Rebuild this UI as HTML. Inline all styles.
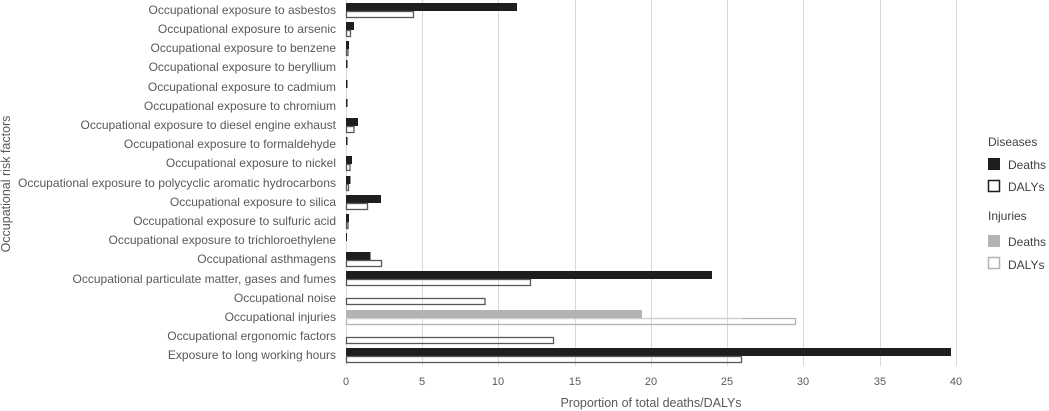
<!DOCTYPE html>
<html><head><meta charset="utf-8"><style>
html,body{margin:0;padding:0;background:#fff;}
svg{display:block;font-family:"Liberation Sans",sans-serif;}
</style></head><body>
<svg width="1049" height="411" viewBox="0 0 1049 411" xmlns="http://www.w3.org/2000/svg">
<g stroke="#d9d9d9" stroke-width="1">
<line x1="422.5" y1="0" x2="422.5" y2="366"/>
<line x1="498.5" y1="0" x2="498.5" y2="366"/>
<line x1="575.5" y1="0" x2="575.5" y2="366"/>
<line x1="651.5" y1="0" x2="651.5" y2="366"/>
<line x1="727.5" y1="0" x2="727.5" y2="366"/>
<line x1="803.5" y1="0" x2="803.5" y2="366"/>
<line x1="880.5" y1="0" x2="880.5" y2="366"/>
<line x1="956.5" y1="0" x2="956.5" y2="366"/>
</g>
<line x1="346.5" y1="0" x2="346.5" y2="366" stroke="#d9d9d9"/>
<g font-size="12" fill="#595959" text-anchor="end">
<text x="336" y="14">Occupational exposure to asbestos</text>
<text x="336" y="33">Occupational exposure to arsenic</text>
<text x="336" y="52">Occupational exposure to benzene</text>
<text x="336" y="71">Occupational exposure to beryllium</text>
<text x="336" y="91">Occupational exposure to cadmium</text>
<text x="336" y="110">Occupational exposure to chromium</text>
<text x="336" y="129">Occupational exposure to diesel engine exhaust</text>
<text x="336" y="148">Occupational exposure to formaldehyde</text>
<text x="336" y="167">Occupational exposure to nickel</text>
<text x="336" y="187" textLength="318" lengthAdjust="spacingAndGlyphs">Occupational exposure to polycyclic aromatic hydrocarbons</text>
<text x="336" y="206">Occupational exposure to silica</text>
<text x="336" y="225">Occupational exposure to sulfuric acid</text>
<text x="336" y="244">Occupational exposure to trichloroethylene</text>
<text x="336" y="263">Occupational asthmagens</text>
<text x="336" y="283">Occupational particulate matter, gases and fumes</text>
<text x="336" y="302">Occupational noise</text>
<text x="336" y="321">Occupational injuries</text>
<text x="336" y="340">Occupational ergonomic factors</text>
<text x="336" y="359">Exposure to long working hours</text>
</g>
<g fill="#1e1e1e">
<rect x="346" y="3" width="171" height="8"/>
<rect x="346" y="22" width="8" height="8"/>
<rect x="346" y="41" width="3" height="8"/>
<rect x="346" y="60" width="1.5" height="8"/>
<rect x="346" y="80" width="1.5" height="8"/>
<rect x="346" y="99" width="1.5" height="8"/>
<rect x="346" y="118" width="12" height="8"/>
<rect x="346" y="137" width="1.5" height="8"/>
<rect x="346" y="156" width="6" height="8"/>
<rect x="346" y="176" width="4.5" height="8"/>
<rect x="346" y="195" width="35" height="8"/>
<rect x="346" y="214" width="3" height="8"/>
<rect x="346" y="233" width="1" height="8"/>
<rect x="346" y="252" width="24.5" height="8"/>
<rect x="346" y="271" width="366" height="8"/>
<rect x="346" y="348" width="605" height="8"/>
</g>
<rect x="346" y="310" width="296" height="8" fill="#b3b3b3"/>
<g fill="none" stroke="#595959" stroke-width="1.3">
<rect x="346.5" y="11.5" width="67" height="6"/>
<rect x="346.5" y="30.5" width="4" height="6"/>
<rect x="346.5" y="49.5" width="1.5" height="6"/>
<rect x="346.5" y="126.5" width="7.5" height="6"/>
<rect x="346.5" y="164.5" width="3.5" height="6"/>
<rect x="346.5" y="184.5" width="2" height="6"/>
<rect x="346.5" y="203.5" width="21" height="6"/>
<rect x="346.5" y="222.5" width="1.5" height="6"/>
<rect x="346.5" y="260.5" width="35" height="6"/>
<rect x="346.5" y="279.5" width="184" height="6"/>
<rect x="346.5" y="298.5" width="138.5" height="6"/>
<rect x="346.5" y="337.5" width="207" height="6"/>
<rect x="346.5" y="356.5" width="395" height="6"/>
</g>
<rect x="346.5" y="318.5" width="449" height="6" fill="none" stroke="#b3b3b3" stroke-width="1.3"/>
<line x1="346" y1="318.5" x2="742" y2="318.5" stroke="#d0d0d0"/>
<g font-size="11" fill="#595959" text-anchor="middle">
<text x="346" y="385">0</text><text x="422" y="385">5</text><text x="498" y="385">10</text>
<text x="575" y="385">15</text><text x="651" y="385">20</text><text x="727" y="385">25</text>
<text x="803" y="385">30</text><text x="880" y="385">35</text><text x="956" y="385">40</text>
<text x="651" y="407" font-size="12.5">Proportion of total deaths/DALYs</text>
<text transform="translate(10,184) rotate(-90)" font-size="12.5">Occupational risk factors</text>
</g>
<g font-size="12" fill="#404040">
<text x="988" y="146">Diseases</text>
<rect x="988" y="158" width="12" height="12" fill="#1e1e1e"/>
<text x="1008" y="169">Deaths</text>
<rect x="988.5" y="180.5" width="11" height="11" fill="none" stroke="#1e1e1e" stroke-width="1.5"/>
<text x="1008" y="191">DALYs</text>
<text x="988" y="220">Injuries</text>
<rect x="988" y="235" width="12" height="12" fill="#b3b3b3"/>
<text x="1008" y="246">Deaths</text>
<rect x="988.5" y="257.5" width="11" height="11" fill="none" stroke="#b3b3b3" stroke-width="1.5"/>
<text x="1008" y="269">DALYs</text>
</g>
</svg>
</body></html>
